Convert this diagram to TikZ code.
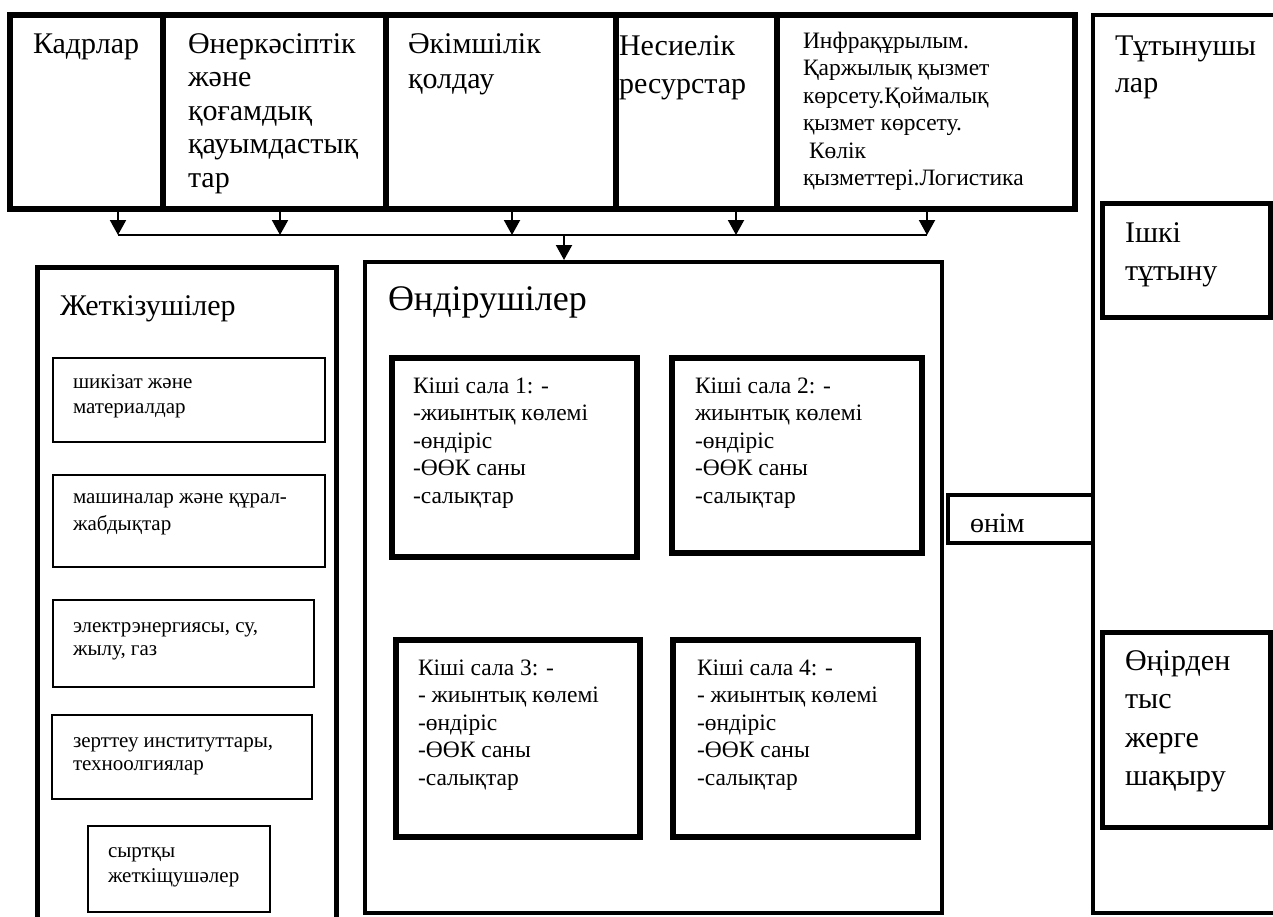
\documentclass[tikz,border=0pt]{standalone}
\usepackage{fontspec}
\setmainfont{Liberation Serif}
\usetikzlibrary{arrows.meta}
\newcommand{\fsz}[2]{\fontsize{#1}{#2}\selectfont}
\newcommand{\mlines}[1]{\begin{tabular}[t]{@{}l@{}}#1\end{tabular}}
\begin{document}
\begin{tikzpicture}[x=1pt,y=-1pt,
  bx/.style={draw, line width=5.5pt, inner sep=0pt, outer sep=0pt, anchor=north west},
  mbx/.style={draw, line width=4.5pt, inner sep=0pt, outer sep=0pt, anchor=north west},
  tbx/.style={draw, line width=1.8pt, inner sep=0pt, outer sep=0pt, anchor=north west},
  txt/.style={anchor=base west, inner sep=0pt, outer sep=0pt},
  big/.style={font=\fsz{30}{35}},
  mid/.style={font=\fsz{23.5}{27.5}},
  sml/.style={font=\fsz{21}{24}},
  arr/.style={line width=2pt, -{Triangle[width=16pt,length=15pt]}},
  bus/.style={line width=2pt}
]
\useasboundingbox (0,0) rectangle (1273,916);
\clip (0,0) rectangle (1273,916);

% top row
\node[bx, minimum width=153pt, minimum height=194pt] (kadr)  at (10,15) {};
\node[bx, minimum width=223pt, minimum height=194pt] (onerk) at (163,15) {};
\node[bx, minimum width=230pt, minimum height=194pt] (akim)  at (386,15) {};
\node[bx, minimum width=161pt, minimum height=194pt] (nesie) at (616,15) {};
\node[bx, minimum width=298pt, minimum height=194pt] (infra) at (777,15) {};

\node[txt, big] (t-kadr)  at (33,53)  {Кадрлар};
\node[txt, font=\fsz{30}{33.5}] (t-onerk) at (188,53) {\mlines{Өнеркәсіптік\\және\\қоғамдық\\қауымдастық\\тар}};
\node[txt, big] (t-akim)  at (408,53) {\mlines{Әкімшілік\\қолдау}};
\node[txt, font=\fsz{30}{38}] (t-nesie) at (619,55) {\mlines{Несиелік\\ресурстар}};
\node[txt, mid] (t-infra) at (803,48) {\mlines{Инфрақұрылым.\\Қаржылық қызмет\\көрсету.Қоймалық\\қызмет көрсету.\\\hspace{6pt}Көлік\\қызметтері.Логистика}};

% consumers column
\node[mbx, minimum width=200pt, minimum height=898pt] (cons) at (1093,15) {};
\node[txt, font=\fsz{30}{37}] (t-cons) at (1115,55) {\mlines{Тұтынушы\\лар}};
\node[bx, line width=5pt, minimum width=168pt, minimum height=114pt] (ishki) at (1102,203) {};
\node[txt, font=\fsz{30}{38}] (t-ishki) at (1125,242) {\mlines{Ішкі\\тұтыну}};
\node[bx, line width=5pt, minimum width=168pt, minimum height=195pt] (onir) at (1102,632) {};
\node[txt, font=\fsz{30}{38.5}] (t-onir) at (1125,670) {\mlines{Өңірден\\тыс\\жерге\\шақыру}};

% product
\node[mbx, minimum width=145pt, minimum height=48pt] (onim) at (948,495) {};
\node[txt, font=\fsz{28}{32}] (t-onim) at (970,532) {өнім};

% suppliers
\node[bx, line width=5pt, minimum width=299pt, minimum height=665pt] (supp) at (37,267) {};
\node[txt, big] (t-supp) at (60,315) {Жеткізушілер};
\node[tbx, minimum width=272pt, minimum height=84pt] (s1) at (53,358) {};
\node[tbx, minimum width=272pt, minimum height=92pt] (s2) at (53,475) {};
\node[tbx, minimum width=261pt, minimum height=87pt] (s3) at (53,600) {};
\node[tbx, minimum width=260pt, minimum height=84pt] (s4) at (52,715) {};
\node[tbx, minimum width=182pt, minimum height=86pt] (s5) at (88,826) {};
\node[txt, font=\fsz{21}{25}] (t-s1) at (73,388) {\mlines{шикізат және\\материалдар}};
\node[txt, font=\fsz{21}{27}] (t-s2) at (73,503) {\mlines{машиналар және құрал-\\жабдықтар}};
\node[txt, font=\fsz{21}{23}] (t-s3) at (73,632) {\mlines{электрэнергиясы, су,\\жылу, газ}};
\node[txt, font=\fsz{21}{23}] (t-s4) at (73,747) {\mlines{зерттеу институттары,\\техноолгиялар}};
\node[txt, font=\fsz{21}{25}] (t-s5) at (108,857) {\mlines{сыртқы\\жеткіщушәлер}};

% producers
\node[mbx, minimum width=577pt, minimum height=651pt] (prod) at (365,262) {};
\node[txt, font=\fsz{36}{40}] (t-prod) at (388,310) {Өндірушілер};
\node[bx, minimum width=245pt, minimum height=199pt] (k1) at (392,358) {};
\node[bx, minimum width=250pt, minimum height=195pt] (k2) at (672,358) {};
\node[bx, minimum width=244pt, minimum height=197pt] (k3) at (396,640) {};
\node[bx, minimum width=245pt, minimum height=197pt] (k4) at (673,640) {};
\node[txt, mid] (t-k1) at (413,393) {\mlines{Кіші сала 1: -\\-жиынтық көлемі\\-өндіріс\\-ӨӨК саны\\-салықтар}};
\node[txt, mid] (t-k2) at (695,393) {\mlines{Кіші сала 2: -\\жиынтық көлемі\\-өндіріс\\-ӨӨК саны\\-салықтар}};
\node[txt, mid] (t-k3) at (418,675) {\mlines{Кіші сала 3: -\\- жиынтық көлемі\\-өндіріс\\-ӨӨК саны\\-салықтар}};
\node[txt, mid] (t-k4) at (697,675) {\mlines{Кіші сала 4: -\\- жиынтық көлемі\\-өндіріс\\-ӨӨК саны\\-салықтар}};

% bus and arrows
\coordinate (b1) at (118,235);
\coordinate (b2) at (280,235);
\coordinate (b3) at (512,235);
\coordinate (bm) at (564,235);
\coordinate (b4) at (736,235);
\coordinate (b5) at (927,235);
\draw[bus] (b1) -- (b5);
\draw[arr] (kadr.south -| b1) -- (b1);
\draw[arr] (onerk.south -| b2) -- (b2);
\draw[arr] (akim.south -| b3) -- (b3);
\draw[arr] (nesie.south -| b4) -- (b4);
\draw[arr] (infra.south -| b5) -- (b5);
\draw[arr] (bm) -- ([yshift=2pt]prod.north -| bm);
\end{tikzpicture}
\end{document}
